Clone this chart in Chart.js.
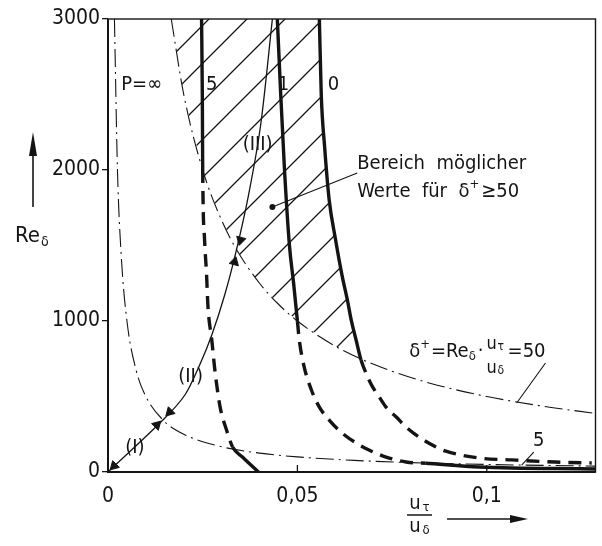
<!DOCTYPE html>
<html>
<head>
<meta charset="utf-8">
<script src="https://cdn.jsdelivr.net/npm/chart.js@4.4.1/dist/chart.umd.min.js"></script>
<style>
  body { margin: 0; background: #fff; }
</style>
</head>
<body>
<canvas id="chart" width="602" height="546"></canvas>
<script>
// axes
const xTicks = [0, 0.05, 0.1];
const xTickLabels = ['0', '0,05', '0,1'];
const yTicks = [0, 1000, 2000, 3000];

// dash-dot curve delta+ = 5
const d5X = [0.0017, 0.0025, 0.0035, 0.005, 0.0075, 0.01, 0.0145, 0.02, 0.03, 0.04, 0.05, 0.065, 0.08, 0.1, 0.1287];
const d5Y = [3000, 2000, 1430, 1000, 667, 500, 345, 250, 167, 125, 100, 77, 62, 50, 39];

// dash-dot curve delta+ = 50
const d50X = [0.0167, 0.02, 0.025, 0.03, 0.034, 0.04, 0.045, 0.05, 0.06, 0.0668, 0.075, 0.085, 0.1, 0.115, 0.1287];
const d50Y = [3000, 2500, 2000, 1667, 1470, 1250, 1111, 1000, 833, 748, 667, 588, 500, 435, 388];

// thick curves P = 5, 1, 0
const p5X = [0.0247, 0.0249, 0.0250, 0.0255, 0.0260, 0.0264, 0.0274, 0.0283, 0.0296, 0.0313, 0.0329, 0.0355, 0.0397];
const p5Y = [3000, 2500, 2000, 1536, 1318, 1093, 874, 656, 430, 278, 166, 99, 0];

const p1X = [0.0447, 0.0456, 0.0466, 0.0479, 0.0490, 0.0500, 0.0505, 0.0518, 0.0537, 0.0558, 0.0584, 0.0618, 0.0655, 0.0689, 0.0734, 0.0787, 0.0839, 0.0980, 0.1287];
const p1Y = [3000, 2500, 2000, 1500, 1250, 1000, 874, 695, 543, 430, 344, 258, 192, 146, 99, 66, 58, 33, 20];

const p0X = [0.0558, 0.0563, 0.0572, 0.0584, 0.0600, 0.0618, 0.0632, 0.0642, 0.0655, 0.0668, 0.0682, 0.0697, 0.0716, 0.0734, 0.0761, 0.0787, 0.0821, 0.0866, 0.0892, 0.0979, 0.1066, 0.1180, 0.1277];
const p0Y = [3000, 2500, 2150, 1800, 1550, 1300, 1139, 1007, 874, 742, 650, 570, 497, 430, 364, 298, 232, 166, 138, 93, 80, 66, 60];

// path (I) - (II) - (III)
const pathX = [0, 0.0145, 0.0203, 0.0242, 0.0274, 0.0308, 0.0339, 0.0371, 0.0403, 0.0434];
const pathY = [0, 344, 510, 709, 907, 1172, 1470, 1834, 2298, 3000];

// arrow heads on the path
const arrowX = [0.0016, 0.0163, 0.0129, 0.0350, 0.0334];
const arrowY = [40, 397, 311, 1536, 1391];
const arrowRot = [225, 225, 45, 195, 15];

// hatched region: along delta+=50 down to P=0, then up along P=0
const hatchX = [0.0167, 0.02, 0.025, 0.03, 0.034, 0.04, 0.045, 0.05, 0.06, 0.0668, 0.0655, 0.0642, 0.0632, 0.0618, 0.0600, 0.0584, 0.0572, 0.0563, 0.0558];
const hatchY = [3000, 2500, 2000, 1667, 1470, 1250, 1111, 1000, 833, 742, 874, 1007, 1139, 1300, 1550, 1800, 2150, 2500, 3000];

const INK = '#141414';
const FONT = '"DejaVu Sans Condensed", "DejaVu Sans", sans-serif';

function pts(xs, ys) {
    return xs.map((x, i) => ({ x: x, y: ys[i] }));
}

function makeHatch(ctx) {
    const s = 38;
    const c = document.createElement('canvas');
    c.width = s; c.height = s;
    const g = c.getContext('2d');
    g.strokeStyle = INK;
    g.lineWidth = 1.3;
    g.beginPath();
    g.moveTo(-2, s + 2); g.lineTo(s + 2, -2);
    g.moveTo(-2, 2); g.lineTo(2, -2);
    g.moveTo(s - 2, s + 2); g.lineTo(s + 2, s - 2);
    g.stroke();
    return ctx.createPattern(c, 'repeat');
}

// dashed where 5 < delta+ < 50
const dashMid = seg => {
    const a = seg.p0.parsed, b = seg.p1.parsed;
    const d = (a.x * a.y + b.x * b.y) / 2;
    return d > 5 && d < 50 ? [13, 8] : undefined;
};

function drawRuns(ctx, runs, x, y) {
    runs.forEach(r => {
        ctx.font = r.size + 'px ' + FONT;
        ctx.fillText(r.t, x, y + (r.dy || 0));
        x += ctx.measureText(r.t).width + (r.gap || 0);
    });
    return x;
}

function arrow(ctx, x1, y1, x2, y2, head) {
    const a = Math.atan2(y2 - y1, x2 - x1);
    ctx.beginPath();
    ctx.moveTo(x1, y1);
    ctx.lineTo(x2 - Math.cos(a) * head, y2 - Math.sin(a) * head);
    ctx.stroke();
    ctx.beginPath();
    ctx.moveTo(x2, y2);
    ctx.lineTo(x2 - Math.cos(a) * head - Math.sin(a) * 4, y2 - Math.sin(a) * head + Math.cos(a) * 4);
    ctx.lineTo(x2 - Math.cos(a) * head + Math.sin(a) * 4, y2 - Math.sin(a) * head - Math.cos(a) * 4);
    ctx.closePath();
    ctx.fill();
}

const labelsPlugin = {
    id: 'labels',
    afterDraw(chart) {
        const ctx = chart.ctx;
        const xs = chart.scales.x, ys = chart.scales.y;
        const px = v => xs.getPixelForValue(v);
        const py = v => ys.getPixelForValue(v);
        const a = chart.chartArea;
        ctx.save();
        ctx.strokeStyle = INK;
        ctx.fillStyle = INK;

        // frame
        ctx.lineWidth = 1.4;
        ctx.strokeRect(a.left, a.top, a.right - a.left, a.bottom - a.top);
        ctx.lineWidth = 2;
        ctx.beginPath();
        ctx.moveTo(a.left, a.top); ctx.lineTo(a.left, a.bottom); ctx.lineTo(a.right, a.bottom);
        ctx.stroke();

        // inward x ticks
        ctx.lineWidth = 1.3;
        xTicks.slice(1).forEach(v => {
            ctx.beginPath();
            ctx.moveTo(px(v), a.bottom);
            ctx.lineTo(px(v), a.bottom - 7);
            ctx.stroke();
        });

        // curve labels
        ctx.textBaseline = 'middle';
        ctx.textAlign = 'center';
        ctx.font = '20px ' + FONT;
        ctx.fillText('P=\u221e', px(0.0089), py(2563));
        ctx.fillText('5', px(0.0274), py(2563));
        ctx.fillText('1', px(0.0463), py(2563));
        ctx.fillText('0', px(0.0595), py(2563));
        ctx.fillText('(III)', px(0.0395), py(2166));
        ctx.fillText('(II)', px(0.0218), py(629));
        ctx.fillText('(I)', px(0.0071), py(159));
        ctx.fillText('5', px(0.1137), py(205));

        // region note
        ctx.textAlign = 'left';
        ctx.font = '20px ' + FONT;
        ctx.fillText('Bereich  m\u00f6glicher', px(0.0658), py(2040));
        drawRuns(ctx, [
            { t: 'Werte  f\u00fcr  \u03b4', size: 20 },
            { t: '+', size: 13, dy: -7, gap: 2 },
            { t: '\u226550', size: 20 }
        ], px(0.0658), py(1854));

        // leaders
        ctx.lineWidth = 1.1;
        ctx.beginPath();
        ctx.moveTo(px(0.0434), py(1755)); ctx.lineTo(px(0.0658), py(1980));
        ctx.moveTo(px(0.1124), py(132)); ctx.lineTo(px(0.1092), py(46));
        ctx.moveTo(px(0.1155), py(722)); ctx.lineTo(px(0.1079), py(457));
        ctx.stroke();
        ctx.beginPath();
        ctx.arc(px(0.0434), py(1755), 3, 0, Math.PI * 2);
        ctx.fill();

        // delta+ formula
        const fy = py(795);
        let x = drawRuns(ctx, [
            { t: '\u03b4', size: 20 },
            { t: '+', size: 13, dy: -7, gap: 1 },
            { t: '=Re', size: 20 },
            { t: '\u03b4', size: 13, dy: 5, gap: 2 },
            { t: '\u00b7', size: 20, gap: 3 }
        ], px(0.0795), fy);
        ctx.font = '18px ' + FONT;
        ctx.fillText('u', x, fy - 8);
        ctx.font = '12px ' + FONT;
        ctx.fillText('\u03c4', x + 11, fy - 5);
        ctx.font = '18px ' + FONT;
        ctx.fillText('u', x, fy + 16);
        ctx.font = '12px ' + FONT;
        ctx.fillText('\u03b4', x + 11, fy + 19);
        drawRuns(ctx, [{ t: '=50', size: 20 }], x + 21, fy);

        // y title with arrow
        ctx.font = '22px ' + FONT;
        ctx.fillText('Re', 15, 236);
        ctx.font = '14px ' + FONT;
        ctx.fillText('\u03b4', 15 + 26, 242);
        ctx.lineWidth = 1.6;
        arrow(ctx, 33, 207, 33, 132, 24);

        // x title with arrow
        ctx.textAlign = 'center';
        ctx.font = '20px ' + FONT;
        ctx.fillText('u', 415, 504);
        ctx.fillText('u', 415, 527);
        ctx.font = '13px ' + FONT;
        ctx.fillText('\u03c4', 426, 508);
        ctx.fillText('\u03b4', 426, 531);
        ctx.lineWidth = 1.5;
        ctx.beginPath();
        ctx.moveTo(407, 515); ctx.lineTo(432, 515);
        ctx.stroke();
        arrow(ctx, 447, 519, 528, 519, 18);
        ctx.restore();
    }
};

const ctx = document.getElementById('chart').getContext('2d');

const thick = { showLine: true, borderColor: INK, borderWidth: 3.4, pointRadius: 0, cubicInterpolationMode: 'monotone', fill: false, segment: { borderDash: dashMid } };
const dashDot = { showLine: true, borderColor: INK, borderWidth: 1.1, pointRadius: 0, cubicInterpolationMode: 'monotone', fill: false, borderDash: [18, 5, 2, 5] };

new Chart(ctx, {
    type: 'scatter',
    data: {
        datasets: [
            Object.assign({ label: 'P=5', data: pts(p5X, p5Y) }, thick),
            Object.assign({ label: 'P=1', data: pts(p1X, p1Y) }, thick),
            Object.assign({ label: 'P=0', data: pts(p0X, p0Y) }, thick),
            {
                label: 'arrows', data: pts(arrowX, arrowY), showLine: false,
                pointStyle: 'triangle', pointRadius: 5.5, rotation: arrowRot,
                backgroundColor: INK, borderColor: INK, borderWidth: 1
            },
            { label: '(I)-(III)', data: pts(pathX, pathY), showLine: true, borderColor: INK, borderWidth: 1.3, pointRadius: 0, tension: 0.3, fill: false },
            Object.assign({ label: 'delta+=50', data: pts(d50X, d50Y) }, dashDot),
            Object.assign({ label: 'delta+=5', data: pts(d5X, d5Y) }, dashDot),
            {
                label: 'hatch', data: pts(hatchX, hatchY), showLine: true, borderWidth: 0,
                pointRadius: 0, tension: 0, fill: 'shape', backgroundColor: makeHatch(ctx)
            }
        ]
    },
    options: {
        responsive: false,
        animation: false,
        layout: { padding: { top: 19, right: 5, left: 0, bottom: 0 } },
        plugins: { legend: { display: false }, tooltip: { enabled: false } },
        scales: {
            x: {
                type: 'linear', min: 0, max: 0.1287,
                afterBuildTicks: s => { s.ticks = xTicks.map(v => ({ value: v })); },
                afterFit: s => { s.height = 74; },
                grid: { display: false, drawTicks: false },
                border: { display: false },
                ticks: {
                    color: INK, padding: 12, maxRotation: 0,
                    font: { family: FONT, size: 21 },
                    callback: v => xTickLabels[xTicks.indexOf(v)]
                }
            },
            y: {
                type: 'linear', min: 0, max: 3000,
                afterBuildTicks: s => { s.ticks = yTicks.map(v => ({ value: v })); },
                afterFit: s => { s.width = 108; },
                grid: { drawOnChartArea: false, color: INK, lineWidth: 1.3, tickLength: 6 },
                border: { display: false },
                ticks: { color: INK, padding: 2, font: { family: FONT, size: 21 }, callback: v => String(v) }
            }
        }
    },
    plugins: [labelsPlugin]
});
</script>
</body>
</html>
